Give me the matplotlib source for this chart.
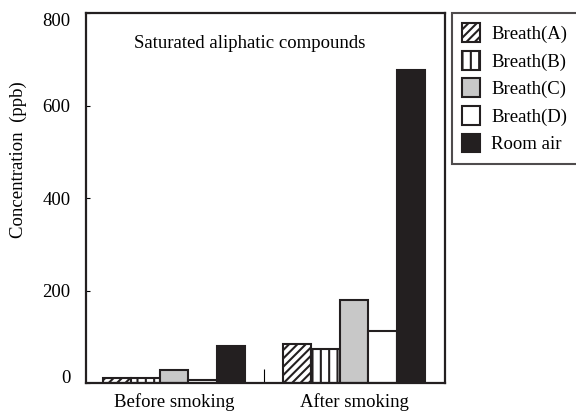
import numpy as np
import matplotlib.pyplot as plt

plt.rcParams['font.family'] = ['Liberation Serif', 'DejaVu Serif']
plt.rcParams['hatch.linewidth'] = 1.5

groups = ["Before smoking", "After smoking"]
series = ["Breath(A)", "Breath(B)", "Breath(C)", "Breath(D)", "Room air"]
values = {
    "Breath(A)": [11, 84],
    "Breath(B)": [11, 74],
    "Breath(C)": [28, 180],
    "Breath(D)": [7, 113],
    "Room air": [80, 678],
}
colors = ["white", "white", "#c8c8c8", "white", "#231f20"]
hatches = ["////", "||", None, None, None]
yticks = [0, 200, 400, 600, 800]

fig = plt.figure(figsize=(5.76, 4.11), dpi=100)
ax = fig.add_axes([0.149, 0.068, 0.624, 0.9])

x = np.arange(len(groups))
w = 0.158
for i, s in enumerate(series):
    ax.bar(x + (i - 2) * w, values[s], width=w, color=colors[i], hatch=hatches[i],
           edgecolor="#231f20", linewidth=1.5, label=s)

ax.set_xlim(-0.489, 1.506)
ax.set_ylim(0, 800)
ax.set_xticks(x)
ax.set_xticklabels(groups, fontsize=13.5)
ax.set_xticks([0.5], minor=True)
ax.tick_params(axis="x", which="major", length=0, pad=7)
ax.tick_params(axis="x", which="minor", direction="in", length=10, width=0.8)
ax.set_yticks(yticks)
ax.set_yticklabels([str(v) for v in yticks], fontsize=13.5)
ax.tick_params(axis="y", direction="in", length=3, width=0.8, pad=11)
labs = ax.get_yticklabels()
labs[0].set_verticalalignment("baseline")
labs[-1].set_verticalalignment("top")
for sp in ax.spines.values():
    sp.set_linewidth(1.6)
    sp.set_color("#231f20")

fig.text(18 / 576, 1 - 160 / 411, "Concentration  (ppb)", rotation=90,
         ha="center", va="center", fontsize=13.5)
ax.text(0.457, 0.919, "Saturated aliphatic compounds", transform=ax.transAxes,
        ha="center", va="center", fontsize=13.5)

leg = fig.legend(loc="upper left", bbox_to_anchor=(452 / 576, 1 - 13 / 411),
                 fontsize=13.5, frameon=True, fancybox=False, borderaxespad=0,
                 handlelength=0.95, handleheight=1.15, handletextpad=0.6,
                 labelspacing=0.42, borderpad=0.55)
leg.get_frame().set_edgecolor("#231f20")
leg.get_frame().set_linewidth(1.5)

fig.savefig("out.png", dpi=100)
